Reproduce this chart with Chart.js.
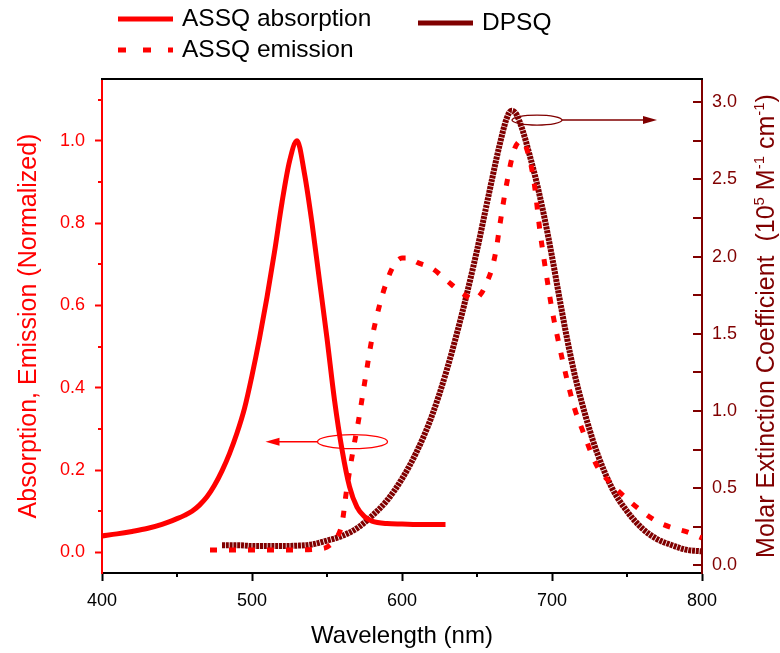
<!DOCTYPE html>
<html lang="en">
<head>
<meta charset="UTF-8" />
<title>ASSQ / DPSQ spectra</title>
<style>
  html, body { margin: 0; padding: 0; background: #fff; }
  #wrap { width: 780px; height: 653px; }
</style>
</head>
<body>
<div id="wrap"><canvas id="myChart" width="780" height="653"></canvas></div>

<script src="https://cdn.jsdelivr.net/npm/chart.js"></script>
<script>
// ASSQ absorption (normalized, left axis)
const absWl  = [400, 410, 420, 430, 440, 450, 455, 460, 465, 470, 475, 480, 485, 490, 495, 500, 505, 510, 515, 520, 525, 530, 535, 540, 545, 550, 555, 560, 565, 570, 575, 580, 590, 600, 610, 620, 629];
const absVal = [0.040, 0.045, 0.051, 0.058, 0.068, 0.082, 0.09, 0.10, 0.115, 0.135, 0.163, 0.198, 0.24, 0.29, 0.35, 0.43, 0.52, 0.62, 0.73, 0.85, 0.95, 1.00, 0.92, 0.80, 0.66, 0.52, 0.37, 0.25, 0.16, 0.11, 0.087, 0.076, 0.07, 0.069, 0.068, 0.068, 0.068];

// ASSQ emission (normalized, left axis)
const emWl  = [472, 480, 490, 500, 510, 520, 530, 540, 545, 550, 555, 560, 563, 567, 571, 575, 580, 585, 590, 595, 600, 605, 610, 620, 630, 640, 648, 653, 657, 660, 663, 665, 670, 675, 680, 684, 688, 692, 696, 700, 705, 710, 715, 720, 730, 740, 750, 760, 770, 780, 790, 800];
const emVal = [0.006, 0.006, 0.006, 0.006, 0.006, 0.006, 0.006, 0.007, 0.009, 0.013, 0.03, 0.07, 0.15, 0.24, 0.32, 0.41, 0.52, 0.60, 0.66, 0.70, 0.715, 0.715, 0.705, 0.69, 0.66, 0.63, 0.615, 0.63, 0.66, 0.69, 0.74, 0.79, 0.90, 0.98, 1.00, 0.97, 0.90, 0.78, 0.68, 0.59, 0.50, 0.42, 0.35, 0.30, 0.21, 0.165, 0.13, 0.10, 0.075, 0.06, 0.05, 0.035];

// DPSQ molar extinction (10^5 M-1 cm-1, right axis)
const dpWl  = [480, 490, 500, 510, 520, 530, 540, 550, 560, 570, 580, 590, 600, 610, 620, 630, 640, 645, 650, 655, 660, 665, 670, 673, 676, 680, 685, 690, 695, 700, 705, 710, 715, 720, 725, 730, 740, 750, 760, 770, 780, 790, 800];
const dpVal = [0.13, 0.13, 0.125, 0.125, 0.125, 0.127, 0.135, 0.16, 0.19, 0.24, 0.32, 0.42, 0.56, 0.74, 0.97, 1.27, 1.63, 1.83, 2.04, 2.27, 2.5, 2.72, 2.9, 2.945, 2.925, 2.83, 2.66, 2.47, 2.25, 2.0, 1.73, 1.47, 1.24, 1.05, 0.88, 0.73, 0.5, 0.35, 0.24, 0.17, 0.13, 0.1, 0.09];

// tick values
const xTicks = [400, 500, 600, 700, 800];
const xMinor = [450, 550, 650, 750];
const leftTicks = [0, 0.2, 0.4, 0.6, 0.8, 1.0];
const leftMinor = [0.1, 0.3, 0.5, 0.7, 0.9, 1.1];
const rightTicks = [0, 0.5, 1.0, 1.5, 2.0, 2.5, 3.0];
const rightMinor = [0.25, 0.75, 1.25, 1.75, 2.25, 2.75];

// ellipse + arrow markers (data units)
const absMark = { wl: 567, val: 0.269, toWl: 509 };
const dpMark = { wl: 690, val: 2.884, toWl: 770 };

const RED = "#ff0000";
const MAROON = "#800000";
const FONT = "'Liberation Sans', Arial, sans-serif";

Chart.defaults.font.family = FONT;

function pts(xs, ys) {
  return xs.map((x, i) => ({ x: x, y: ys[i] }));
}

function setTicks(values) {
  return scale => { scale.ticks = values.map(v => ({ value: v })); };
}

function line(ctx, x1, y1, x2, y2) {
  ctx.beginPath();
  ctx.moveTo(x1, y1);
  ctx.lineTo(x2, y2);
  ctx.stroke();
}

function marker(ctx, x, y, rx, ry, tipX, color) {
  ctx.strokeStyle = color;
  ctx.fillStyle = color;
  ctx.lineWidth = 1.3;
  ctx.beginPath();
  ctx.ellipse(x, y, rx, ry, 0, 0, Math.PI * 2);
  ctx.stroke();
  const dir = tipX < x ? -1 : 1;
  const start = x + dir * rx;
  ctx.lineWidth = 1.5;
  line(ctx, start, y, tipX - dir * 10, y);
  ctx.beginPath();
  ctx.moveTo(tipX, y);
  ctx.lineTo(tipX - dir * 14, y - 4);
  ctx.lineTo(tipX - dir * 14, y + 4);
  ctx.closePath();
  ctx.fill();
}

const decor = {
  id: "decor",
  afterDraw(chart) {
    const ctx = chart.ctx;
    const a = chart.chartArea;
    const sx = chart.scales.x, yl = chart.scales.yL, yr = chart.scales.yR;
    ctx.save();

    // top frame
    ctx.strokeStyle = "#000";
    ctx.lineWidth = 2;
    line(ctx, a.left - 1, a.top, a.right + 1, a.top);

    // minor ticks
    ctx.lineWidth = 2;
    ctx.strokeStyle = "#000";
    xMinor.forEach(v => {
      const x = Math.round(sx.getPixelForValue(v));
      line(ctx, x, a.bottom, x, a.bottom + 4);
    });
    ctx.strokeStyle = RED;
    leftMinor.forEach(v => {
      const y = Math.round(yl.getPixelForValue(v));
      line(ctx, a.left - 4, y, a.left, y);
    });
    // right axis ticks point inward
    ctx.strokeStyle = MAROON;
    rightTicks.concat(rightMinor).forEach(v => {
      const y = Math.round(yr.getPixelForValue(v));
      line(ctx, a.right - 9, y, a.right, y);
    });

    // ellipse markers with arrows
    marker(ctx, sx.getPixelForValue(absMark.wl), yl.getPixelForValue(absMark.val), 35, 7,
      sx.getPixelForValue(absMark.toWl), RED);
    marker(ctx, sx.getPixelForValue(dpMark.wl), yr.getPixelForValue(dpMark.val), 25, 5,
      sx.getPixelForValue(dpMark.toWl), MAROON);

    // right axis title with superscripts
    const parts = [
      ["Molar Extinction Coefficient  (10", 0], ["5", 1], [" M", 0], ["-1", 1],
      [" cm", 0], ["-1", 1], [")", 0]
    ];
    const big = "25px " + FONT, small = "15px " + FONT;
    let total = 0;
    parts.forEach(p => { ctx.font = p[1] ? small : big; total += ctx.measureText(p[0]).width; });
    ctx.translate(774, (a.top + a.bottom) / 2);
    ctx.rotate(-Math.PI / 2);
    ctx.fillStyle = MAROON;
    ctx.textBaseline = "alphabetic";
    ctx.textAlign = "left";
    let cx = -total / 2;
    parts.forEach(p => {
      ctx.font = p[1] ? small : big;
      ctx.fillText(p[0], cx, p[1] ? -10 : 0);
      cx += ctx.measureText(p[0]).width;
    });
    ctx.restore();

    // legend
    ctx.save();
    const items = [
      { ds: 0, x: 118, y: 19 },
      { ds: 1, x: 118, y: 50 },
      { ds: 2, x: 418, y: 23 }
    ];
    ctx.font = "24.5px " + FONT;
    ctx.textBaseline = "middle";
    ctx.fillStyle = "#000";
    items.forEach(it => {
      const ds = chart.data.datasets[it.ds];
      ctx.strokeStyle = ds.borderColor;
      ctx.lineWidth = 5;
      ctx.lineCap = "butt";
      ctx.setLineDash(ds.label === "ASSQ emission" ? [8, 17] : []);
      line(ctx, it.x, it.y, it.x + 55, it.y);
      ctx.setLineDash([]);
      ctx.fillText(ds.label, it.x + 64, it.y);
    });
    ctx.restore();
  }
};

const ctx = document.getElementById("myChart").getContext("2d");
new Chart(ctx, {
  type: "line",
  data: {
    datasets: [
      {
        label: "ASSQ absorption",
        data: pts(absWl, absVal),
        yAxisID: "yL",
        borderColor: RED,
        borderWidth: 5,
        pointRadius: 0,
        cubicInterpolationMode: "monotone",
      },
      {
        label: "ASSQ emission",
        data: pts(emWl, emVal),
        yAxisID: "yL",
        borderColor: RED,
        borderWidth: 5,
        borderDash: [7, 12],
        borderCapStyle: "butt",
        pointRadius: 0,
        cubicInterpolationMode: "monotone",
      },
      {
        label: "DPSQ",
        data: pts(dpWl, dpVal),
        yAxisID: "yR",
        borderColor: MAROON,
        borderWidth: 6,
        borderDash: [3, 0.8],
        borderCapStyle: "butt",
        pointRadius: 0,
        cubicInterpolationMode: "monotone",
      },
    ],
  },
  options: {
    responsive: false,
    animation: false,
    devicePixelRatio: 1,
    layout: { padding: { top: 79, left: 0, right: 0, bottom: 0 } },
    plugins: { legend: { display: false }, tooltip: { enabled: false } },
    scales: {
      x: {
        type: "linear",
        min: 400,
        max: 800,
        afterBuildTicks: setTicks(xTicks),
        afterFit: s => { s.height = 80; },
        ticks: { color: "#000", font: { size: 18 }, padding: 9, maxRotation: 0, autoSkip: false },
        grid: { drawOnChartArea: false, tickLength: 8, tickWidth: 2, tickColor: "#000" },
        border: { color: "#000", width: 2 },
        title: { display: true, text: "Wavelength (nm)", color: "#000", font: { size: 24 }, padding: { top: 0, bottom: 2 } },
      },
      yL: {
        position: "left",
        min: -0.05,
        max: 1.15,
        afterBuildTicks: setTicks(leftTicks),
        afterFit: s => { s.width = 102; },
        ticks: { color: RED, font: { size: 18 }, padding: 10, autoSkip: false,
          callback: v => v.toFixed(1) },
        grid: { drawOnChartArea: false, tickLength: 7, tickWidth: 2, tickColor: RED },
        border: { color: RED, width: 2 },
        title: { display: true, text: "Absorption, Emission (Normalized)", color: RED, font: { size: 25 }, padding: { top: 14, bottom: 0 } },
      },
      yR: {
        position: "right",
        min: -0.05,
        max: 3.15,
        afterBuildTicks: setTicks(rightTicks),
        afterFit: s => { s.width = 78; },
        ticks: { color: MAROON, font: { size: 18 }, padding: 10, autoSkip: false,
          callback: v => v.toFixed(1) },
        grid: { drawOnChartArea: false, drawTicks: false },
        border: { color: MAROON, width: 2 },
      },
    },
  },
  plugins: [decor],
});
</script>
</body>
</html>
